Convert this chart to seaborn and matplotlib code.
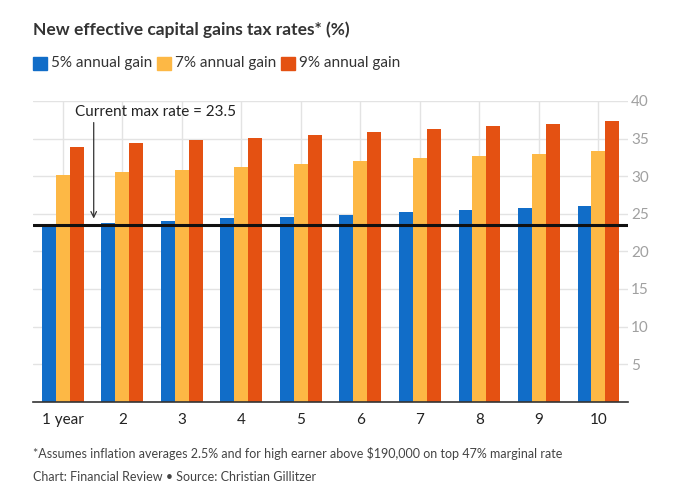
import pandas as pd
import matplotlib.pyplot as plt
import seaborn as sns

# data
years = ["1 year", "2", "3", "4", "5", "6", "7", "8", "9", "10"]
gain5 = [23.5, 23.8, 24.0, 24.4, 24.6, 24.8, 25.2, 25.5, 25.8, 26.0]
gain7 = [30.2, 30.6, 30.8, 31.2, 31.6, 32.0, 32.4, 32.7, 33.0, 33.4]
gain9 = [33.9, 34.4, 34.8, 35.1, 35.5, 35.9, 36.3, 36.7, 36.9, 37.3]
series = ["5% annual gain", "7% annual gain", "9% annual gain"]
max_rate = 23.5

colors = ["#116dc8", "#fdb845", "#e45112"]

df = pd.DataFrame({
    "year": years * 3,
    "rate": gain5 + gain7 + gain9,
    "series": [series[0]] * 10 + [series[1]] * 10 + [series[2]] * 10,
})

sns.set_style("white")
plt.rcParams["font.family"] = ["Lato", "DejaVu Sans"]

fig = plt.figure(figsize=(6.82, 4.95), dpi=100)
ax = fig.add_axes([0.0484, 0.1883, 0.8726, 0.6077])

sns.barplot(data=df, x="year", y="rate", hue="series", palette=colors,
            width=0.7, saturation=1, legend=False, ax=ax, zorder=3,
            linewidth=0, edgecolor="none")

ax.set_xlim(-0.5, 9.5)
ax.set_ylim(0, 40)
ax.set_yticks(range(5, 45, 5))
ax.yaxis.tick_right()
ax.tick_params(axis="y", length=0, labelsize=11, labelcolor="#a0a0a0", pad=2)
ax.tick_params(axis="x", length=0, labelsize=11, labelcolor="#222222", pad=8)
ax.set_xlabel("")
ax.set_ylabel("")
ax.grid(True, color="#e3e3e3", linewidth=1, zorder=0)
ax.set_axisbelow(True)
for s in ["top", "left", "right"]:
    ax.spines[s].set_visible(False)
ax.spines["bottom"].set_color("#333333")
ax.spines["bottom"].set_linewidth(1.2)
ax.spines["bottom"].set_zorder(10)

# current max rate line and note
ax.axhline(max_rate, color="#111111", linewidth=2.2, zorder=5)
ax.annotate("", xy=(0.52, max_rate + 0.5), xytext=(0.52, 37.5),
            arrowprops=dict(arrowstyle="->", color="#333333", lw=0.9), zorder=6)
ax.text(0.2, 38.6, "Current max rate = 23.5", fontsize=11, color="#222222",
        va="center", ha="left", zorder=6)

# title and legend
fig.text(0.0484, 0.94, "New effective capital gains tax rates* (%)",
         fontsize=12.5, fontweight="bold", color="#333333", va="center")
lx = [33, 157, 281]
for x0, name, c in zip(lx, series, colors):
    fig.patches.append(plt.Rectangle((x0 / 682, 1 - 70 / 495), 14 / 682, 13 / 495,
                                     transform=fig.transFigure, color=c))
    fig.text((x0 + 18) / 682, 1 - 63.5 / 495, name, fontsize=11,
             color="#333333", va="center")

# footer
fig.text(0.0484, 1 - 454 / 495,
         "*Assumes inflation averages 2.5% and for high earner above $190,000 on top 47% marginal rate",
         fontsize=9, color="#444444", va="center")
fig.text(0.0484, 1 - 477 / 495,
         "Chart: Financial Review \u2022 Source: Christian Gillitzer",
         fontsize=9, color="#444444", va="center")

plt.savefig("out.png", dpi=100)
